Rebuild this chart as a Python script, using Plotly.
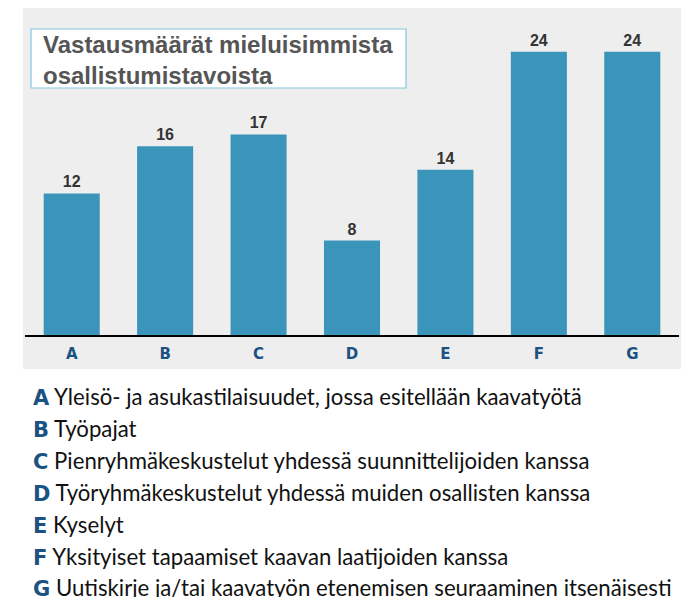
import plotly.graph_objects as go

categories = ["A", "B", "C", "D", "E", "F", "G"]
values = [12, 16, 17, 8, 14, 24, 24]
descriptions = [
    "Yleisö- ja asukastilaisuudet, jossa esitellään kaavatyötä",
    "Työpajat",
    "Pienryhmäkeskustelut yhdessä suunnittelijoiden kanssa",
    "Työryhmäkeskustelut yhdessä muiden osallisten kanssa",
    "Kyselyt",
    "Yksityiset tapaamiset kaavan laatijoiden kanssa",
    "Uutiskirje ja/tai kaavatyön etenemisen seuraaminen itsenäisesti",
]
title_text = "Vastausmäärät mieluisimmista<br>osallistumistavoista"

OFF = 8  # page body margin
W, H = 691 - OFF, 597 - OFF
# plot area in page pixels
PL, PR, PT, PB = 25, 679, 7, 335
L, R, T, B = PL - OFF, PR - OFF, max(PT - OFF, 0), PB - OFF


def px(x):
    return (x - OFF - L) / (R - L)


def py(y):
    return (B - (y - OFF)) / (B - T)


BAR = "#3b94b9"
DARK_BLUE = "#1b5282"

fig = go.Figure(
    go.Bar(
        x=categories,
        y=values,
        marker=dict(color=BAR, line=dict(width=0)),
        text=[str(v) for v in values],
        textposition="outside",
        textfont=dict(family="Liberation Sans", size=16, color="#333333", weight="bold"),
        cliponaxis=False,
        width=0.6,
    )
)

fig.update_layout(
    width=W,
    height=H,
    margin=dict(l=L, r=W - R, t=T, b=H - B, pad=0),
    paper_bgcolor="white",
    plot_bgcolor="rgba(0,0,0,0)",
    showlegend=False,
    bargap=0.4,
    font=dict(family="Liberation Sans"),
)
fig.update_xaxes(
    showline=True,
    linecolor="black",
    linewidth=2,
    ticks="outside",
    ticklen=4,
    tickcolor="rgba(0,0,0,0)",
    tickfont=dict(family="DejaVu Sans", size=15, color=DARK_BLUE, weight="bold"),
    showgrid=False,
    zeroline=False,
)
fig.update_yaxes(
    range=[0, (B - T) / 11.8],
    visible=False,
    showgrid=False,
    zeroline=False,
)

# gray panel
fig.add_shape(
    type="rect", xref="paper", yref="paper",
    x0=px(23), x1=px(681), y0=py(369), y1=py(OFF),
    fillcolor="#eeeeee", line=dict(width=0), layer="below",
)
# title box
fig.add_shape(
    type="rect", xref="paper", yref="paper",
    x0=px(31), x1=px(406), y0=py(88), y1=py(29),
    fillcolor="white", line=dict(color="#86c6e2", width=1.2), layer="below",
)
fig.add_annotation(
    xref="paper", yref="paper", x=px(41), y=py(60), xanchor="left", yanchor="middle",
    text=title_text, showarrow=False, align="left",
    font=dict(family="Liberation Sans", size=24, color="#555555", weight="bold"),
)

line_y = [396, 428, 460, 492, 524, 556, 587]
for cat, desc, yy in zip(categories, descriptions, line_y):
    fig.add_annotation(
        xref="paper", yref="paper", x=px(31), y=py(yy), xanchor="left", yanchor="middle",
        text=(f"<b><span style='font-family:DejaVu Sans;font-size:21px;"
              f"color:{DARK_BLUE}'>{cat}</span></b> {desc}"),
        showarrow=False, align="left",
        font=dict(family="Lato", size=22.2, color="#111111"),
    )

fig.write_html("out.html")
